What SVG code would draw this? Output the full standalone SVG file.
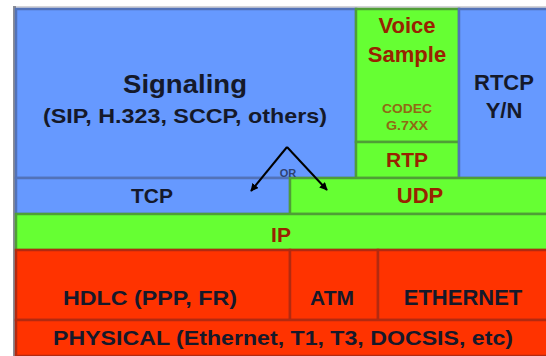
<svg xmlns="http://www.w3.org/2000/svg" width="546" height="356" viewBox="0 0 546 356">
<style>
text{font-family:"Liberation Sans",Arial,sans-serif;font-weight:bold;text-anchor:middle}
.b{fill:#6699ff;stroke:#5272b8;stroke-width:2.5}
.g{fill:#66ff33;stroke:#4f9e36;stroke-width:2.5}
.r{fill:#ff3300;stroke:#b32a10;stroke-width:2.5}
.k{fill:#15192a}
.d{fill:#992200}
.c{fill:#8f6a14}
</style>
<defs>
<marker id="ah" viewBox="0 0 10 10" refX="9" refY="5" markerWidth="4" markerHeight="4" orient="auto">
<path d="M0,0 L10,5 L0,10 z" fill="#000"/>
</marker>
</defs>
<rect x="0" y="0" width="546" height="356" fill="#fff"/>
<rect x="13" y="6" width="533" height="350" fill="#d4d4d8"/>
<rect x="13" y="6" width="3" height="350" fill="#8a8c96"/>
<g id="signaling"><rect class="b" x="16" y="9" width="340" height="169"/>
<text class="k" x="185" y="93" font-size="26" textLength="124" lengthAdjust="spacingAndGlyphs">Signaling</text>
<text class="k" x="185" y="123" font-size="21" textLength="284" lengthAdjust="spacingAndGlyphs">(SIP, H.323, SCCP, others)</text></g>
<g id="voice"><rect class="g" x="356" y="9" width="103" height="133"/>
<text class="d" x="407" y="33" font-size="22">Voice</text>
<text class="d" x="407" y="62" font-size="22">Sample</text>
<text class="c" x="407" y="113" font-size="13" textLength="50" lengthAdjust="spacingAndGlyphs">CODEC</text>
<text class="c" x="407" y="130" font-size="13" textLength="42" lengthAdjust="spacingAndGlyphs">G.7XX</text></g>
<g id="rtp"><rect class="g" x="356" y="142" width="103" height="36"/>
<text class="d" x="407" y="167" font-size="21">RTP</text></g>
<g id="rtcp"><rect class="b" x="459" y="9" width="90" height="169"/>
<text class="k" x="504" y="90" font-size="22">RTCP</text>
<text class="k" x="504" y="118" font-size="22">Y/N</text></g>
<g id="tcp"><rect class="b" x="16" y="178" width="274" height="36"/>
<text class="k" x="152" y="203" font-size="21">TCP</text></g>
<g id="udp"><rect class="g" x="290" y="178" width="260" height="36"/>
<text class="d" x="420" y="203" font-size="22">UDP</text></g>
<g id="ip"><rect class="g" x="16" y="214" width="534" height="36"/>
<text class="d" x="281" y="242" font-size="21">IP</text></g>
<g id="hdlc"><rect class="r" x="16" y="250" width="274" height="70"/>
<text class="k" x="150" y="305" font-size="20" textLength="174" lengthAdjust="spacingAndGlyphs">HDLC (PPP, FR)</text></g>
<g id="atm"><rect class="r" x="290" y="250" width="88" height="70"/>
<text class="k" x="332" y="305" font-size="21">ATM</text></g>
<g id="ethernet"><rect class="r" x="378" y="250" width="172" height="70"/>
<text class="k" x="463" y="305" font-size="22">ETHERNET</text></g>
<g id="physical"><rect class="r" x="16" y="320" width="534" height="36"/>
<text class="k" x="283" y="345" font-size="20" textLength="460" lengthAdjust="spacingAndGlyphs">PHYSICAL (Ethernet, T1, T3, DOCSIS, etc)</text></g>
<g id="connectors" stroke="#000" stroke-width="2" fill="none">
<path d="M287,147 L251,191" marker-end="url(#ah)"/>
<path d="M287,147 L327,190" marker-end="url(#ah)"/>
</g>
<text x="288" y="177" font-size="11" fill="#2e4272" stroke="none">OR</text>
</svg>
